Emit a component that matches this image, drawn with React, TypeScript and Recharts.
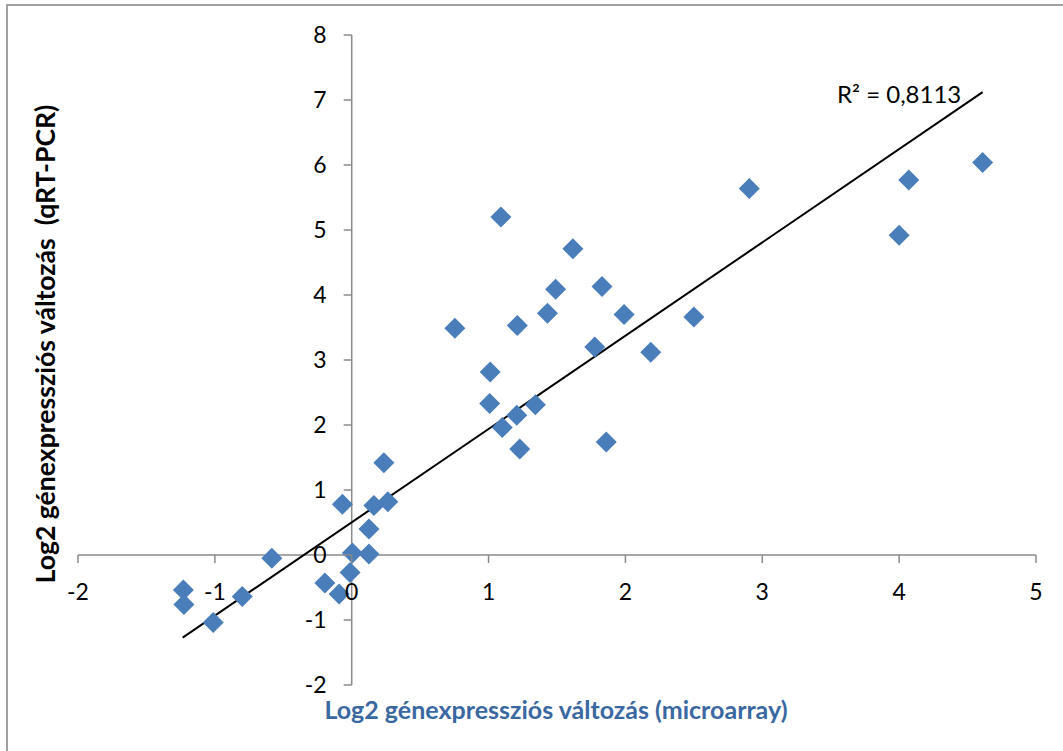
import { ScatterChart, Scatter, XAxis, YAxis, ReferenceLine, ReferenceDot } from 'recharts';

// Log2 fold change, microarray (x) vs qRT-PCR (y)
const microarray = [
  -1.23, -1.226, -1.012, -0.8, -0.584, -0.068, -0.196, -0.092, -0.012, 0.005, 0.126, 0.126, 0.162,
  0.264, 0.235, 1.09, 1.616, 1.49, 1.829, 1.43, 1.99, 0.754, 1.21, 2.5, 1.776, 2.185, 1.012, 1.008,
  1.342, 1.206, 1.1, 1.228, 1.86, 2.905, 4.07, 4.61, 4.0,
];
const qrtpcr = [
  -0.54, -0.76, -1.04, -0.64, -0.05, 0.78, -0.43, -0.6, -0.27, 0.03, 0.015, 0.4, 0.76,
  0.82, 1.42, 5.2, 4.71, 4.09, 4.13, 3.72, 3.7, 3.49, 3.53, 3.66, 3.2, 3.12, 2.815, 2.33,
  2.31, 2.15, 1.96, 1.63, 1.74, 5.64, 5.77, 6.04, 4.92,
];

// linear trendline end points
const trendX = [-1.235, 4.61];
const trendY = [-1.27, 7.12];
const r2Text = 'R² = 0,8113';
const r2Pos = [4.0, 7.08];

const xTicks = [-2, -1, 0, 1, 2, 3, 4, 5];
const yTicks = [-2, -1, 0, 1, 2, 3, 4, 5, 6, 7, 8];

const points = microarray.map((x, i) => ({ x, y: qrtpcr[i] }));

const W = 1063;
const H = 751;
const X_AXIS_H = 30;
const Y_AXIS_W = 40;
const plotLeft = 78;
const plotTop = 35;
const plotRight = 1036;
const plotBottom = 685;
const margin = {
  top: plotTop,
  right: W - plotRight,
  bottom: H - plotBottom - X_AXIS_H,
  left: plotLeft - Y_AXIS_W,
};
const plotW = plotRight - plotLeft;
const plotH = plotBottom - plotTop;
// where the axes cross (value 0 on each)
const ZERO_X = plotLeft + (plotW * (0 - xTicks[0])) / (xTicks[xTicks.length - 1] - xTicks[0]);
const ZERO_Y = plotTop + (plotH * (yTicks[yTicks.length - 1] - 0)) / (yTicks[yTicks.length - 1] - yTicks[0]);

const AXIS = '#8a8a8a';
const FONT = 'Lato, "Open Sans", sans-serif';
const TICK_SIZE = 23;

const Diamond = ({ cx, cy }: any) => (
  <polygon
    points={`${cx},${cy - 10.5} ${cx + 10.5},${cy} ${cx},${cy + 10.5} ${cx - 10.5},${cy}`}
    fill="#4a7ebb"
  />
);

const XTick = ({ x, payload }: any) => (
  <g transform={`translate(${x},${ZERO_Y})`}>
    <line x1={0} x2={0} y1={0} y2={8} stroke={AXIS} strokeWidth={1.5} />
    <text x={0} y={45} textAnchor="middle" fill="#000" fontSize={TICK_SIZE} fontFamily={FONT}>
      {payload.value}
    </text>
  </g>
);

const YTick = ({ y, payload }: any) => (
  <g transform={`translate(${ZERO_X},${y})`}>
    <line x1={-8} x2={0} y1={0} y2={0} stroke={AXIS} strokeWidth={1.5} />
    <text x={-25} y={8} textAnchor="end" fill="#000" fontSize={TICK_SIZE} fontFamily={FONT}>
      {payload.value}
    </text>
  </g>
);

export default function App() {
  return (
    <div
      style={{
        position: 'absolute',
        left: 0,
        top: 0,
        width: W,
        height: H,
        background: '#fff',
        overflow: 'hidden',
      }}
    >
      {/* chart frame, cropped on right and bottom */}
      <div
        style={{
          position: 'absolute',
          left: 6,
          top: 4,
          width: W + 20,
          height: H + 20,
          borderLeft: '2px solid #a0a0a0',
          borderTop: '2px solid #a0a0a0',
        }}
      />
      <ScatterChart width={W} height={H} margin={margin} style={{ position: 'absolute', left: 0, top: 0 }}>
        <XAxis
          type="number"
          dataKey="x"
          domain={[xTicks[0], xTicks[xTicks.length - 1]]}
          ticks={xTicks}
          axisLine={false}
          tickLine={false}
          height={X_AXIS_H}
          tick={(p: any) => <XTick {...p} />}
          interval={0}
        />
        <YAxis
          type="number"
          dataKey="y"
          domain={[yTicks[0], yTicks[yTicks.length - 1]]}
          ticks={yTicks}
          axisLine={false}
          tickLine={false}
          width={Y_AXIS_W}
          tick={(p: any) => <YTick {...p} />}
          interval={0}
        />
        <ReferenceLine y={0} stroke={AXIS} strokeWidth={1.5} />
        <ReferenceLine x={0} stroke={AXIS} strokeWidth={1.5} />
        <Scatter data={points} shape={<Diamond />} isAnimationActive={false} />
        <ReferenceLine
          segment={[
            { x: trendX[0], y: trendY[0] },
            { x: trendX[1], y: trendY[1] },
          ]}
          stroke="#000"
          strokeWidth={2}
        />
        <ReferenceDot
          x={r2Pos[0]}
          y={r2Pos[1]}
          r={0}
          stroke="none"
          label={{ value: r2Text, position: 'center', fill: '#000', fontSize: 24, fontFamily: FONT }}
        />
      </ScatterChart>
      <div
        style={{
          position: 'absolute',
          left: 45,
          top: 344,
          transform: 'translate(-50%, -50%) rotate(-90deg)',
          whiteSpace: 'pre',
          fontFamily: FONT,
          fontWeight: 'bold',
          fontSize: 26.6,
          color: '#000',
        }}
      >
        {'Log2 génexpressziós változás  (qRT-PCR)'}
      </div>
      <div
        style={{
          position: 'absolute',
          left: 556,
          top: 709,
          transform: 'translate(-50%, -50%)',
          whiteSpace: 'pre',
          fontFamily: FONT,
          fontWeight: 'bold',
          fontSize: 25,
          color: '#3a68a2',
        }}
      >
        Log2 génexpressziós változás (microarray)
      </div>
    </div>
  );
}
